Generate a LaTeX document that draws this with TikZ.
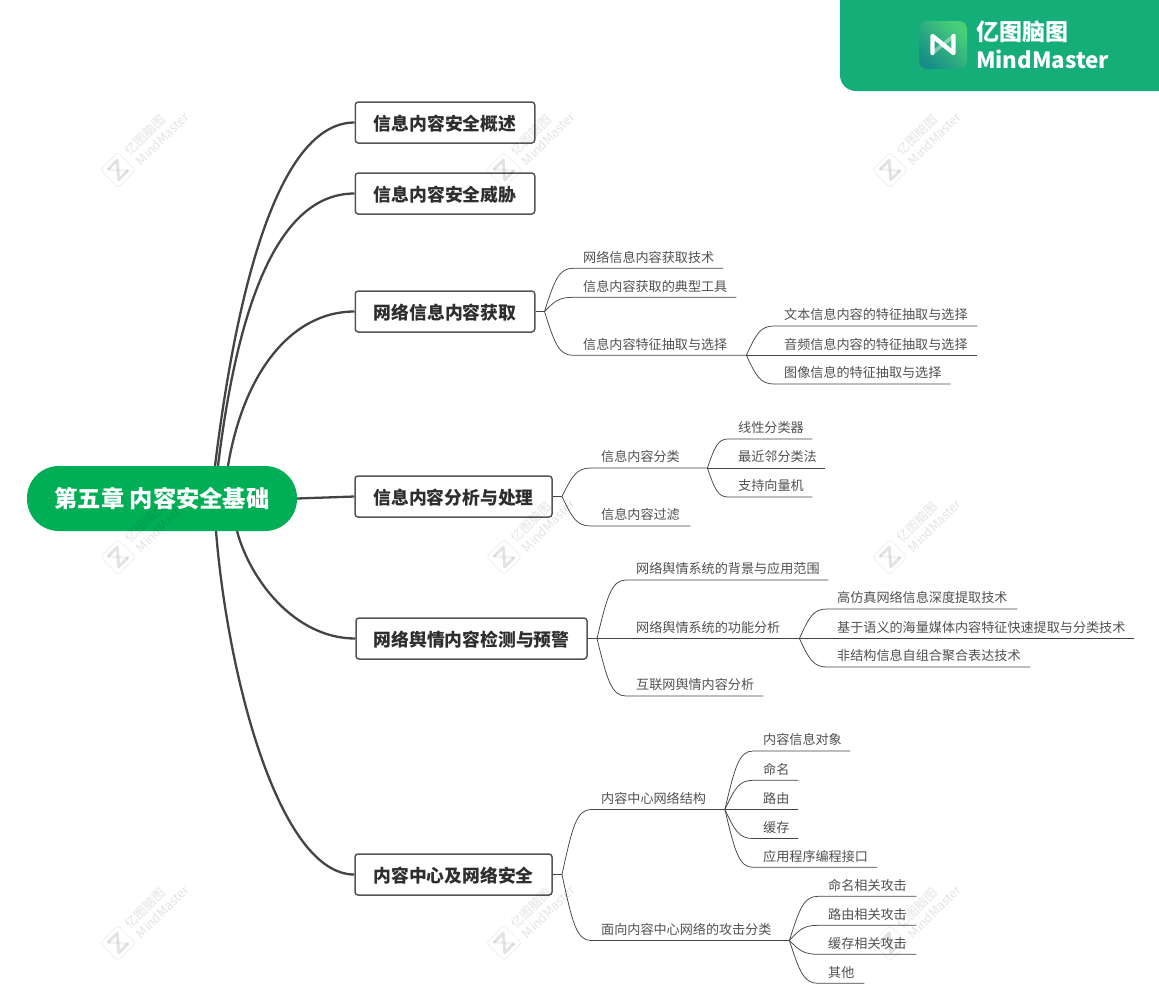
\documentclass[tikz,border=0pt]{standalone}
\usepackage{fontspec}
\usetikzlibrary{calc}
\setmainfont{Noto Sans CJK SC}
\definecolor{rootgreen}{HTML}{00AF55}
\definecolor{logogreen}{HTML}{15AE78}
\definecolor{logolight}{HTML}{48D078}
\definecolor{logodark}{HTML}{178E88}
\definecolor{linegrey}{HTML}{444444}
\definecolor{boxgrey}{HTML}{555555}
\definecolor{leaftext}{HTML}{505050}
\tikzset{
  rootnode/.style={fill=rootgreen,rounded corners=32pt,inner sep=0pt,minimum width=270pt,minimum height=65pt,text=white,font=\fontsize{23.3}{26}\selectfont\bfseries},
  boxnode/.style={draw=boxgrey,fill=white,line width=1.5pt,rounded corners=3pt,inner sep=0pt,minimum height=41pt,text height=17.6pt,text depth=2pt,text=black!82,font=\fontsize{17.8}{22}\selectfont\bfseries},
  leafnode/.style={inner ysep=0pt,inner xsep=10pt,minimum height=22pt,anchor=south west,align=left,text=leaftext,font=\fontsize{13.1}{16}\selectfont},
  bigline/.style={draw=linegrey,line width=2.3pt},
  thinline/.style={draw=linegrey,line width=0.75pt},
  logotext/.style={anchor=west,inner sep=0pt,text=white,font=\fontsize{#1}{26}\selectfont\bfseries},
  wmtext/.style={rotate=45,inner sep=0pt,font=\fontsize{12.5}{14}\selectfont,black},
}
% name, x start, x end, y underline, text
\newcommand{\leafat}[5]{\node[leafnode,minimum width=#3pt-#2pt,text width=#3pt-#2pt-20pt] (#1) at (#2,#4) {#5};}
% hub, leaf: curve then underline
\newcommand{\branch}[2]{\draw[thinline] let \p1=(#1),\p2=(#2.south west) in (\p1) .. controls ({\x1+0.35*(\x2-\x1)},{\y1+0.72*(\y2-\y1)}) and ({\x1+0.5*(\x2-\x1)},{\y2}) .. (\p2) -- (#2.south east);}
\newcommand{\straight}[2]{\draw[thinline] (#1) -- (#2.south east);}
\newcommand{\wmark}[2]{\begin{scope}[shift={(#1,#2)},opacity=0.11]
  \draw[black!60,line width=0.8pt,rounded corners=3pt,rotate=45] (-12.5,-12.5) rectangle (12.5,12.5);
  \draw[black,line width=2.8pt,line join=round,line cap=round,rotate=-45] (-7.5,6.5)--(-7.5,-6.5)--(7.5,6.5)--(7.5,-6.5);
  \draw[black,line width=2.4pt,opacity=0.05,rotate=-45] (-7.5,6.5)--(7.5,-6.5);
  \node[wmtext] at (27,-35) {亿图脑图};
  \node[wmtext] at (44.5,-31.5) {MindMaster};
\end{scope}}
\begin{document}
\begin{tikzpicture}[x=1pt,y=-1pt]
\useasboundingbox (0,0) rectangle (1159,1005);
% logo band
\fill[logogreen] (1159,0) -- (1159,91) [rounded corners=16pt] -- (840,91) [sharp corners] -- (840,0) -- cycle;
\shade[rounded corners=8pt,left color=logodark,right color=logolight,shading angle=135] (919,21) rectangle (967,69);
\draw[white,opacity=0.4,line width=3.6pt] (932.5,53)--(953.5,36);
\draw[white,line width=4.4pt,line join=round,line cap=round] (932.5,53)--(932.5,36)--(953.5,53)--(953.5,36);
\node[logotext=23] (logoa) at (976,32) {亿图脑图};
\node[logotext=22.3] (logob) at (976,59.5) {MindMaster};
% main nodes
\node[rootnode] (root) at (162,498.5) {第五章 内容安全基础};
\node[boxnode,minimum width=179.5pt] (b1) at (445,122.5) {信息内容安全概述};
\node[boxnode,minimum width=179.5pt] (b2) at (445,193.5) {信息内容安全威胁};
\node[boxnode,minimum width=179.5pt] (b3) at (445,311.5) {网络信息内容获取};
\node[boxnode,minimum width=197pt] (b4) at (453.5,496.5) {信息内容分析与处理};
\node[boxnode,minimum width=231pt] (b5) at (471.5,638.5) {网络舆情内容检测与预警};
\node[boxnode,minimum width=197pt] (b6) at (453.5,874.5) {内容中心及网络安全};
% root connectors
\coordinate (ra) at (215,466);
\coordinate (rb) at (218,466);
\coordinate (rc) at (228,466);
\coordinate (rd) at (216,531);
\coordinate (re) at (237,531);
\draw[bigline] (ra) .. controls (240,262) and (285,122.5) .. (b1.west);
\draw[bigline] (rb) .. controls (240,285) and (285,193.5) .. (b2.west);
\draw[bigline] (rc) .. controls (243,375) and (290,311.5) .. (b3.west);
\draw[bigline] (root.east) -- (b4.west);
\draw[bigline] (re) .. controls (250,580) and (295,638.5) .. (b5.west);
\draw[bigline] (rd) .. controls (228,680) and (280,874.5) .. (b6.west);
% hubs
\coordinate (h3) at (544.5,311.5);
\coordinate (h4) at (562,496.5);
\coordinate (h5) at (597,638.5);
\coordinate (h6) at (562,874.5);
\draw[thinline] (b3.east) -- (h3);
\draw[thinline] (b4.east) -- (h4);
\draw[thinline] (b5.east) -- (h5);
\draw[thinline] (b6.east) -- (h6);
% group 3
\leafat{a1}{573}{722.5}{268.3}{网络信息内容获取技术}
\leafat{a2}{573}{736}{297.3}{信息内容获取的典型工具}
\leafat{a3}{573}{746}{355.3}{信息内容特征抽取与选择}
\branch{h3}{a1}\branch{h3}{a2}\branch{h3}{a3}
\leafat{a4}{774}{977}{326}{文本信息内容的特征抽取与选择}
\leafat{a5}{774}{977}{355.3}{音频信息内容的特征抽取与选择}
\leafat{a6}{774}{950}{384}{图像信息的特征抽取与选择}
\branch{a3.south east}{a4}\straight{a3.south east}{a5}\branch{a3.south east}{a6}
% group 4
\leafat{c1}{591}{707}{468}{信息内容分类}
\leafat{c2}{591}{690}{526}{信息内容过滤}
\branch{h4}{c1}\branch{h4}{c2}
\leafat{c3}{728}{812}{439}{线性分类器}
\leafat{c4}{728}{825}{468}{最近邻分类法}
\leafat{c5}{728}{812}{497}{支持向量机}
\branch{c1.south east}{c3}\straight{c1.south east}{c4}\branch{c1.south east}{c5}
% group 5
\leafat{d1}{626}{828}{580}{网络舆情系统的背景与应用范围}
\leafat{d2}{626}{799}{638.5}{网络舆情系统的功能分析}
\leafat{d3}{626}{763}{696}{互联网舆情内容分析}
\branch{h5}{d1}\straight{h5}{d2}\branch{h5}{d3}
\leafat{d4}{827}{1017}{609}{高仿真网络信息深度提取技术}
\leafat{d5}{827}{1134}{638.5}{基于语义的海量媒体内容特征快速提取与分类技术}
\leafat{d6}{827}{1030}{667}{非结构信息自组合聚合表达技术}
\branch{d2.south east}{d4}\straight{d2.south east}{d5}\branch{d2.south east}{d6}
% group 6
\leafat{e1}{591}{724.5}{809.5}{内容中心网络结构}
\leafat{e2}{591}{789}{940.5}{面向内容中心网络的攻击分类}
\branch{h6}{e1}\branch{h6}{e2}
\leafat{e3}{753}{850}{751}{内容信息对象}
\leafat{e4}{753}{798}{780.3}{命名}
\leafat{e5}{753}{798}{809.5}{路由}
\leafat{e6}{753}{798}{838.5}{缓存}
\leafat{e7}{753}{877}{867.3}{应用程序编程接口}
\branch{e1.south east}{e3}\branch{e1.south east}{e4}\straight{e1.south east}{e5}\branch{e1.south east}{e6}\branch{e1.south east}{e7}
\leafat{f1}{818}{916}{896.3}{命名相关攻击}
\leafat{f2}{818}{916}{925.3}{路由相关攻击}
\leafat{f3}{818}{916}{954.3}{缓存相关攻击}
\leafat{f4}{818}{864}{983.3}{其他}
\branch{e2.south east}{f1}\branch{e2.south east}{f2}\branch{e2.south east}{f3}\branch{e2.south east}{f4}
% watermarks
\wmark{118}{170}\wmark{504}{170}\wmark{890}{170}
\wmark{118}{557}\wmark{504}{557}\wmark{890}{557}
\wmark{118}{943}\wmark{504}{943}\wmark{890}{943}
\end{tikzpicture}
\end{document}
